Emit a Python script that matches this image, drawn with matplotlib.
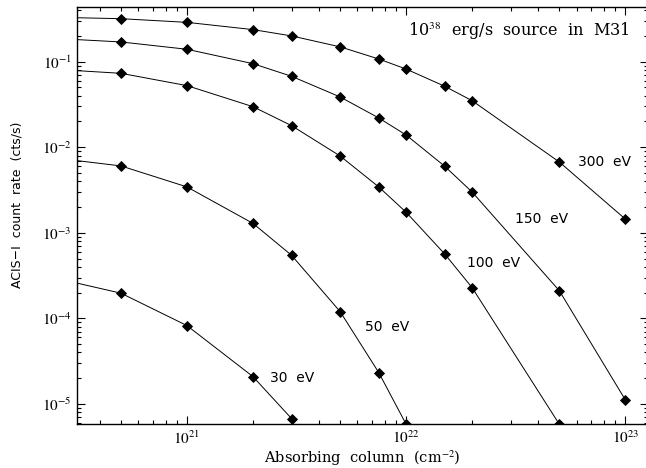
import matplotlib
matplotlib.use("Agg")
import matplotlib.pyplot as plt
import numpy as np

# Absorbing column values (cm^-2) where markers are drawn
nh = [5e20, 1e21, 2e21, 3e21, 5e21, 7.5e21, 1e22, 1.5e22, 2e22, 5e22, 1e23]
nh_start = 3.16e20  # line starts at left edge

# Count rates (cts/s) for each blackbody temperature
rate_300 = [0.318, 0.288, 0.237, 0.200, 0.149, 0.1075, 0.082, 0.0516, 0.035, 0.00673, 0.00145]
rate_150 = [0.170, 0.1396, 0.0948, 0.0675, 0.0387, 0.022, 0.0139, 0.0060, 0.0030, 2.11e-4, 1.12e-5]
rate_100 = [0.0731, 0.0525, 0.0298, 0.0179, 0.0079, 0.00344, 0.00174, 5.66e-4, 2.29e-4, 5.8e-6]
rate_50 = [0.00605, 0.00344, 0.00129, 5.47e-4, 1.2e-4, 2.33e-5, 5.8e-6]
rate_30 = [1.97e-4, 8.24e-5, 2.09e-5, 6.76e-6]

start_rates = {"300": 0.326, "150": 0.181, "100": 0.0785, "50": 0.00697, "30": 2.58e-4}

series = [("300", rate_300), ("150", rate_150), ("100", rate_100), ("50", rate_50), ("30", rate_30)]
labels = ["300  eV", "150  eV", "100  eV", "50  eV", "30  eV"]
label_pos = [(0.877, 0.629), (0.767, 0.492), (0.683, 0.387), (0.504, 0.233), (0.338, 0.111)]

plt.rcParams['mathtext.fontset'] = 'stix'

fig = plt.figure(figsize=(6.46, 4.68), dpi=100)
ax = fig.add_axes([0.1197, 0.0934, 0.8833, 0.8923])
ax.set_xscale('log')
ax.set_yscale('log')

for key, vals in series:
    xs = [nh_start] + nh[:len(vals)]
    ys = [start_rates[key]] + vals
    ax.plot(xs, ys, color='black', lw=0.7)
    ax.plot(nh[:len(vals)], vals, ls='none', marker='D', ms=4.6,
            color='black', mec='black', mew=0.6)

for lab, (px, py) in zip(labels, label_pos):
    ax.text(px, py, lab, transform=ax.transAxes, ha='left', va='center',
            fontsize=10, family='DejaVu Sans')

ax.text(0.5795, 0.9425, r"10$^{38}$  erg/s  source  in  M31", transform=ax.transAxes,
        ha='left', va='center', fontsize=11.6, family='DejaVu Serif')

ax.set_xlim(3.16e20, 1.269e23)
ax.set_ylim(5.79e-6, 0.439)

ax.tick_params(which='both', direction='in', top=True, right=True, width=0.8)
ax.tick_params(which='major', length=6, labelsize=11, pad=4)
ax.tick_params(which='minor', length=3.2)
ax.set_yticks([1e-5, 1e-4, 1e-3, 1e-2, 1e-1])
ax.set_yticklabels([r"$10^{-5}$", r"$10^{-4}$", r"$10^{-3}$", r"$10^{-2}$", r"$10^{-1}$"])
ax.set_xticks([1e21, 1e22, 1e23])
ax.set_xticklabels([r"$10^{21}$", r"$10^{22}$", r"$10^{23}$"])
for sp in ax.spines.values():
    sp.set_linewidth(1.0)

ax.set_xlabel(r"Absorbing  column  (cm$^{-2}$)", fontsize=10.5, family='DejaVu Serif')
ax.xaxis.set_label_coords(0.499, -0.058)
ax.set_ylabel("ACIS\u2212I  count  rate  (cts/s)", fontsize=9, family='DejaVu Sans')
ax.yaxis.set_label_coords(-0.095, 0.525)

fig.savefig("out.png", dpi=100)
